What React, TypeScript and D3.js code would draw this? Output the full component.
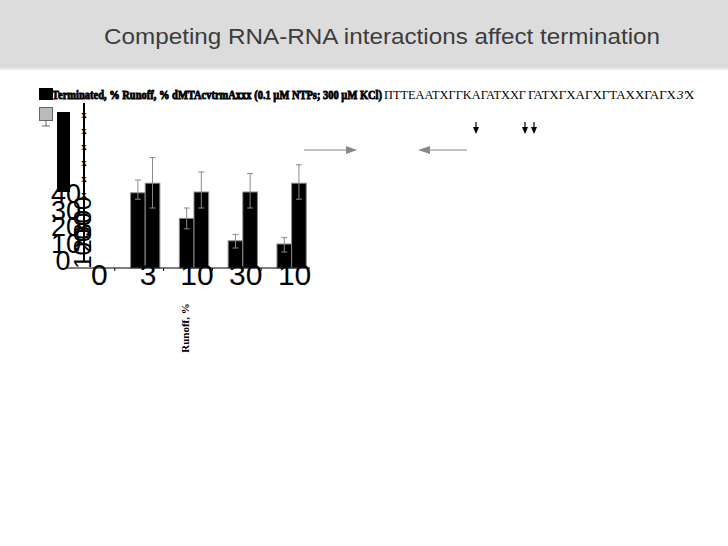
import * as d3 from "d3";

const width = 728;
const height = 546;

// oligo concentration groups (as printed on the slide)
const categories = ["0", "3", "10", "30", "10b"];
const categoryLabels = ["0", "3", "10", "30", "10"];

// series values, %
const terminated = [0, 47, 31, 17, 15];
const terminatedLow = [0, 43, 24.5, 12.5, 10];
const terminatedHigh = [0, 55, 37.5, 21, 19];
const runoff = [0, 53, 47.5, 47.5, 53];
const runoffLow = [0, 37.5, 37.5, 37.5, 43];
const runoffHigh = [0, 69, 60, 59, 64.5];

const yTicks = [0, 10, 20, 30, 40];
const rotatedTicks = ["100", "200", "300"];

const legendText = "Terminated, % Runoff, % dMTAcvtrmAxxx (0.1 µM NTPs; 300 µM KCl)";
const sequenceOverlap = "ΠΤΤΕΑΑΤΧΓΓΚΑΓΑΤΧΧΓ";
const sequenceTail = "ΓΑΤΧΓΧΑΓΧΓΤΑΧΧΓΑΓΧ";
const pausePositions = [476, 525, 534];

const margin = { left: 66, right: 418 };

export default function App() {
  const x = d3
    .scaleBand<string>()
    .domain(categories)
    .range([margin.left + 6, width - margin.right + 6])
    .paddingInner(0.4)
    .paddingOuter(0.2);
  const inner = d3.scaleBand<string>().domain(["t", "r"]).range([0, x.bandwidth()]);
  const y = d3.scaleLinear().domain([0, 100]).range([268, 108]);

  const bars = categories.flatMap((c, i) => [
    { key: `${c}-t`, x: (x(c) ?? 0) + (inner("t") ?? 0), v: terminated[i], lo: terminatedLow[i], hi: terminatedHigh[i] },
    { key: `${c}-r`, x: (x(c) ?? 0) + (inner("r") ?? 0), v: runoff[i], lo: runoffLow[i], hi: runoffHigh[i] },
  ]);
  const bw = inner.bandwidth();
  const step = x.step();
  const boundaries = categories.slice(1).map((c) => (x(c) ?? 0) - (step - x.bandwidth()) / 2 - 6);

  return (
    <svg
      width={width}
      height={height}
      style={{ position: "absolute", left: 0, top: 0, background: "#fff" }}
      fontFamily="'Liberation Serif', serif"
    >
      {/* header band */}
      <rect x={0} y={0} width={width} height={68} fill="#dcdcdc" />
      <rect x={0} y={68} width={width} height={2} fill="#ececec" />
      <text
        x={104}
        y={44}
        fontFamily="'Liberation Sans', Arial, sans-serif"
        fontSize={22}
        fill="#3c3c3c"
        textLength={556}
        lengthAdjust="spacingAndGlyphs"
      >
        Competing RNA-RNA interactions affect termination
      </text>

      {/* garbled legend strip */}
      <rect x={39} y={88} width={14} height={12} fill="#000" />
      <text
        x={52}
        y={99}
        fontSize={13}
        fontWeight="bold"
        fill="#000"
        stroke="#000"
        strokeWidth={0.9}
        textLength={330}
        lengthAdjust="spacingAndGlyphs"
      >
        {legendText}
      </text>
      <text x={384} y={99} fontSize={13} fill="#000" textLength={142} lengthAdjust="spacingAndGlyphs">
        {sequenceOverlap}
      </text>
      <text x={528} y={99} fontSize={13} fill="#000" textLength={148} lengthAdjust="spacingAndGlyphs">
        {sequenceTail}
      </text>
      <text x={677} y={99} fontSize={13} fontStyle="italic" fill="#000">3'</text>
      <text x={685} y={99} fontSize={13} fill="#000">Χ</text>

      {/* legend swatches */}
      <rect x={39.5} y={107.5} width={13} height={13} fill="#bbb" stroke="#666" />
      <line x1={46} x2={46} y1={121} y2={126} stroke="#666" />
      <line x1={42} x2={50} y1={126} y2={126} stroke="#666" />
      <rect x={57} y={112} width={13} height={80} fill="#000" />

      {/* y axis garble */}
      <line x1={84} x2={84} y1={103} y2={262} stroke="#000" strokeWidth={2} />
      {d3.range(0, 6).map((i) => (
        <text key={i} x={84} y={y(96 - i * 10) + 4} fontSize={11} fontWeight="bold" textAnchor="middle">
          x
        </text>
      ))}
      {rotatedTicks.map((t, i) => (
        <text
          key={t}
          transform={`translate(${91}, ${y(12 + i * 10)}) rotate(-90)`}
          fontSize={24}
          textAnchor="middle"
          fontFamily="'Liberation Sans', Arial, sans-serif"
          fill="#000"
        >
          {t}
        </text>
      ))}
      {yTicks.map((t) => (
        <text
          key={t}
          x={t === 0 ? 63 : 66}
          y={y(t * 1.05) + 2}
          fontSize={27}
          textAnchor="middle"
          fontFamily="'Liberation Sans', Arial, sans-serif"
          fill="#000"
        >
          {t}
        </text>
      ))}

      {/* bars */}
      {bars.map((b) => (
        <rect key={b.key} x={b.x} y={y(b.v)} width={bw} height={y(0) - y(b.v)} fill="#000" stroke="#8a8a8a" strokeWidth={1} />
      ))}
      {bars
        .filter((b) => b.v > 0)
        .map((b) => (
          <g key={`${b.key}-err`} stroke="#8a8a8a" strokeWidth={1}>
            <line x1={b.x + bw / 2} x2={b.x + bw / 2} y1={y(b.hi)} y2={y(b.lo)} />
            <line x1={b.x + bw / 2 - 3} x2={b.x + bw / 2 + 3} y1={y(b.hi)} y2={y(b.hi)} />
            <line x1={b.x + bw / 2 - 3} x2={b.x + bw / 2 + 3} y1={y(b.lo)} y2={y(b.lo)} />
          </g>
        ))}

      {/* x axis */}
      <line x1={66} x2={310} y1={y(0)} y2={y(0)} stroke="#000" />
      {boundaries.map((bx, i) => (
        <line key={i} x1={bx} x2={bx} y1={y(0)} y2={y(0) + 3} stroke="#000" />
      ))}
      {categories.map((c, i) => (
        <text
          key={c}
          x={(x(c) ?? 0) + x.bandwidth() / 2 + 3}
          y={y(0) + 17}
          fontSize={30}
          textAnchor="middle"
          fontFamily="'Liberation Sans', Arial, sans-serif"
          fill="#000"
        >
          {categoryLabels[i]}
        </text>
      ))}

      <text transform="translate(189, 328) rotate(-90)" fontSize={11} fontWeight="bold" textAnchor="middle">
        Runoff, %
      </text>

      {/* RNA arrows */}
      <g stroke="#888" fill="#888">
        <line x1={304} x2={346} y1={150} y2={150} />
        <path d="M346,146 L357,150 L346,154 Z" stroke="none" />
        <line x1={430} x2={467} y1={150} y2={150} />
        <path d="M430,146 L418,150 L430,154 Z" stroke="none" />
      </g>
      {pausePositions.map((px) => (
        <g key={px}>
          <line x1={px} x2={px} y1={122} y2={128} stroke="#000" strokeWidth={1.2} />
          <path d={`M${px - 3},127 L${px + 3},127 L${px},134 Z`} fill="#000" />
        </g>
      ))}
    </svg>
  );
}
